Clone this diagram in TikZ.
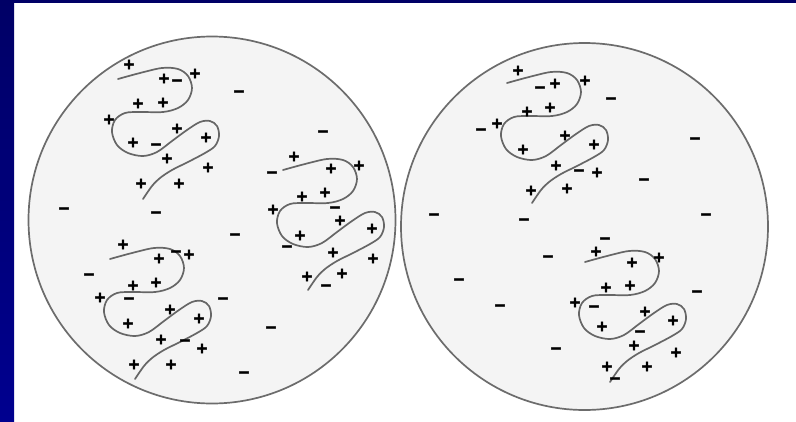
\documentclass[tikz,border=0pt]{standalone}
\usepackage{fontspec}
\newfontfamily\signfont{DejaVu Sans Bold}[FakeBold=3]
\definecolor{navytop}{HTML}{000066}
\definecolor{navybot}{HTML}{00008F}
\definecolor{cellfill}{HTML}{F4F4F4}
\definecolor{cellline}{HTML}{6C6C6C}
\definecolor{chainline}{HTML}{666666}
\tikzset{
  cell/.style={circle, draw=cellline, line width=1.7pt, fill=cellfill, minimum size=367pt, inner sep=0pt},
  sign/.style={font=\signfont\fontsize{15}{15}\selectfont, inner sep=0pt,
               text height=10.4pt, text depth=0pt, text=black},
  chain/.pic={
    \draw[draw=chainline, line width=1.7pt, line cap=round, line join=round]
      plot[smooth, tension=0.55] coordinates {
        (0,0) (22,-6) (44,-11) (60,-10) (70,-3) (74,9) (70,21) (60,29) (45,33)
        (22,33) (7,34) (-3,41) (-6,53) (-1,66) (10,74) (25,77) (39,73) (54,62)
        (69,51) (82,43) (92,42) (99,47) (101,57) (97,67) (87,74) (70,83)
        (54,91) (42,99) (34,107) (25,120)};
  }
}
\begin{document}
\begin{tikzpicture}[x=1pt, y=-1pt]
  \useasboundingbox (0,0) rectangle (796,421);
  \fill[white] (0,0) rectangle (796,421);
  % slide frame
  \shade[top color=navytop, bottom color=navybot] (0,0) rectangle (14,421);
  \fill[navytop] (0,0) rectangle (796,3);

  % the two cells
  \node[cell] (cellL) at (212,220) {};
  \node[cell] (cellR) at (584.5,226.5) {};

  % folded chains
  \pic (chainA) at (118,79) {chain};
  \pic (chainB) at (283,170) {chain};
  \pic (chainC) at (110,259) {chain};
  \pic (chainD) at (507,83) {chain};
  \pic (chainE) at (585,262) {chain};

  % positive charges
  \foreach \x/\y [count=\i] in {
    129/64, 164/78, 195/73, 138/103, 163/102, 109/119, 177/128, 133/142,
    206/137, 167/158, 208/167, 141/183, 179/183,
    294/156, 331/168, 359/165, 302/196, 325/192, 273/209, 340/220, 300/235,
    372/228, 333/252, 373/258, 307/276, 342/273,
    123/244, 159/258, 189/254, 133/285, 156/282, 100/297, 170/309, 128/323,
    199/318, 161/339, 202/348, 134/364, 171/364,
    518/70, 555/83, 585/80, 527/111, 550/107, 497/123, 565/135, 523/149,
    594/144, 556/165, 597/172, 531/190, 567/188,
    596/251, 632/262, 659/257, 606/287, 630/285, 575/302, 645/311, 602/326,
    673/320, 634/345, 676/352, 607/366, 647/366}
    \node[sign] (pos\i) at (\x,\y) {+};

  % negative charges
  \foreach \x/\y [count=\i] in {
    177/80, 156/144,
    272/172, 335/207, 287/246, 326/285,
    176/251, 129/298, 185/340,
    540/87, 481/129, 579/170,
    605/238, 594/306, 640/331, 615/378,
    239/91, 323/131, 64/208, 156/212, 235/234, 89/274, 223/298, 271/327, 244/372,
    611/98, 695/138, 644/179, 434/214, 524/219, 706/214, 548/256, 459/279,
    500/305, 697/291, 556/348}
    \node[sign] (neg\i) at (\x,\y) {−};
\end{tikzpicture}
\end{document}
